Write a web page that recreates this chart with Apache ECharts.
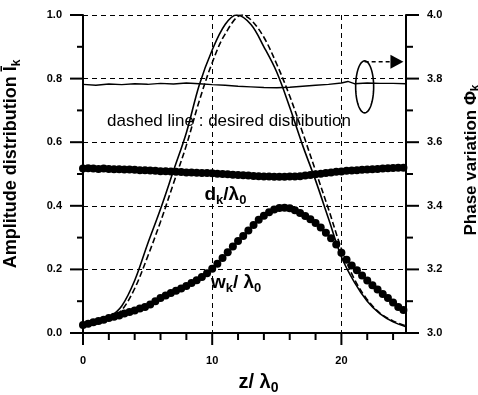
<!DOCTYPE html>
<html><head><meta charset="utf-8">
<script src="https://cdn.jsdelivr.net/npm/echarts@6/dist/echarts.min.js"></script>
<style>html,body{margin:0;padding:0;background:#fff}#c{width:478px;height:395px}</style>
</head><body><div id="c"></div>
<script>
// ---- data ----
const zK = [0,0.4,0.8,1.2,1.6,2,2.4,2.8,3.2,3.6,4,4.4,4.8,5.2,5.6,6,6.4,6.8,7.2,7.6,8,8.4,8.8,9.2,9.6,10,10.4,10.8,11.2,11.6,12,12.4,12.8,13.2,13.6,14,14.4,14.8,15.2,15.6,16,16.4,16.8,17.2,17.6,18,18.4,18.8,19.2,19.6,20,20.4,20.8,21.2,21.6,22,22.4,22.8,23.2,23.6,24,24.4,24.8,25.2];
const wK = [0.025,0.029,0.034,0.038,0.042,0.047,0.051,0.055,0.061,0.066,
            0.071,0.077,0.082,0.090,0.100,0.110,0.118,0.126,0.133,0.140,
            0.148,0.157,0.166,0.176,0.188,0.202,0.218,0.236,0.254,0.272,
            0.289,0.305,0.322,0.340,0.356,0.369,0.380,0.388,0.393,0.394,
            0.392,0.386,0.377,0.368,0.358,0.346,0.332,0.315,0.298,0.278,
            0.252,0.230,0.212,0.197,0.181,0.165,0.150,0.137,0.123,0.110,
            0.096,0.082,0.072,0.064];
const dK = [0.517,0.518,0.517,0.516,0.517,0.516,0.515,0.515,0.514,0.514,
            0.513,0.512,0.512,0.511,0.510,0.509,0.509,0.508,0.507,0.506,
            0.505,0.505,0.504,0.503,0.503,0.502,0.501,0.500,0.499,0.498,
            0.497,0.496,0.495,0.494,0.493,0.492,0.492,0.491,0.491,0.491,
            0.492,0.492,0.493,0.495,0.497,0.499,0.501,0.503,0.505,0.507,
            0.508,0.510,0.511,0.512,0.513,0.514,0.515,0.516,0.517,0.518,
            0.519,0.520,0.520,0.498];
const solidZ = [0,1,2,3,4,5,6,7,8,9,10,11,11.9,13,14,15,16,17,18,19,20,21,22,23,24,25];
const solidI = [0.02,0.03,0.048,0.085,0.165,0.28,0.39,0.51,0.63,0.78,0.89,0.97,1.0,0.97,0.90,0.82,0.71,0.59,0.48,0.36,0.24,0.16,0.10,0.06,0.035,0.02];
const dashZ = [0,1,2,3,4,5,6,7,8,9,10,11,12.3,13,14,15,16,17,18,19,20,21,22,23,24,25];
const dashI = [0.02,0.028,0.042,0.072,0.14,0.24,0.35,0.47,0.59,0.73,0.85,0.94,1.0,0.985,0.93,0.845,0.745,0.63,0.51,0.39,0.265,0.17,0.105,0.062,0.038,0.022];
const phaseZ = [0,1,2,3,4,5,6,7,8,9,10,11,12,13,14,15,16,17,18,19,20,20.5,21,22,23,24,25];
const phase = [3.782,3.779,3.783,3.781,3.784,3.782,3.785,3.783,3.786,3.784,3.781,3.779,3.776,3.774,3.772,3.771,3.773,3.776,3.779,3.782,3.786,3.791,3.784,3.786,3.785,3.785,3.784];
// ticks
const xTickLabels = [0, 10, 20];
const xMinorTicks = [2, 4, 6, 8, 12, 14, 16, 18, 22, 24];
const leftMajor = [0, 0.2, 0.4, 0.6, 0.8, 1.0];
const leftMinor = [0.1, 0.3, 0.5, 0.7, 0.9];
const rightMajor = [3.0, 3.2, 3.4, 3.6, 3.8, 4.0];
const rightMinor = [3.1, 3.3, 3.5, 3.7, 3.9];
// annotation anchors (data coordinates)
const noteText = 'dashed line : desired distribution';
const noteAt = [1.86, 0.665];
const dLabelAt = [9.4, 0.434];
const wLabelAt = [9.9, 0.157];
const ringAt = [21.8, 0.774];

const FONT = '"Liberation Sans", Arial, sans-serif';
const pairs = (xs, ys) => xs.map((x, i) => [x, ys[i]]);
const lbl = (extra) => Object.assign({show: true, fontFamily: FONT, fontSize: 11, fontWeight: 'bold', color: '#000'}, extra);
const nameRich = (mSize, sSize) => ({
  m: {fontFamily: FONT, fontSize: mSize, fontWeight: 'bold', color: '#000', lineHeight: mSize + 5},
  s: {fontFamily: FONT, fontSize: sSize, fontWeight: 'bold', color: '#000', verticalAlign: 'bottom', lineHeight: sSize}
});
const dashGrid = () => ({show: true, lineStyle: {color: '#000', type: [5, 4], width: 1}});

const chart = echarts.init(document.getElementById('c'), null, {renderer: 'canvas'});
const option = {
  animation: false,
  backgroundColor: '#fff',
  textStyle: {fontFamily: FONT},
  grid: {left: 83, right: 72, top: 15, bottom: 62, containLabel: false, outerBoundsMode: 'none'},
  xAxis: [{
    type: 'value', position: 'bottom', min: 0, max: 25, interval: 10,
    axisLine: {show: true, onZero: false, lineStyle: {color: '#000', width: 2}},
    axisTick: {show: false},
    axisLabel: lbl({margin: 22, formatter: v => xTickLabels.includes(v) ? String(v) : ''}),
    splitLine: dashGrid(),
    name: '{m|z/ λ}{s|0}', nameLocation: 'middle', nameGap: 37,
    nameTextStyle: {padding: [0, 0, 0, 28], rich: nameRich(20, 14)}
  }],
  yAxis: [{
    type: 'value', position: 'left', min: 0, max: 1, interval: 0.2,
    axisLine: {show: true, onZero: false, lineStyle: {color: '#000', width: 2}},
    axisTick: {show: false},
    axisLabel: lbl({margin: 21, formatter: v => v.toFixed(1)}),
    splitLine: dashGrid(),
    name: '{m|Amplitude distribution Ī}{s|k}', nameLocation: 'middle', nameRotate: 90, nameGap: 60,
    nameTextStyle: {padding: [0, 0, 0, 20], rich: nameRich(18, 12)}
  }, {
    type: 'value', position: 'right', min: 3, max: 4, interval: 0.2,
    axisLine: {show: true, onZero: false, lineStyle: {color: '#000', width: 2}},
    axisTick: {show: false},
    axisLabel: lbl({margin: 21, formatter: v => v.toFixed(1)}),
    splitLine: {show: false},
    name: '{m|Phase variation Φ}{s|k}', nameLocation: 'middle', nameRotate: 90, nameGap: 54,
    nameTextStyle: {padding: [0, 0, 0, 28], rich: nameRich(17, 12)}
  }],
  series: [
    {name: 'simulated', type: 'line', xAxisIndex: 0, yAxisIndex: 0, data: pairs(solidZ, solidI),
     smooth: 0.35, showSymbol: false, lineStyle: {color: '#000', width: 1.6}, z: 3},
    {name: 'desired', type: 'line', xAxisIndex: 0, yAxisIndex: 0, data: pairs(dashZ, dashI),
     smooth: 0.35, showSymbol: false, lineStyle: {color: '#000', width: 1.6, type: [6, 3]}, z: 3},
    {name: 'w_k/λ0', type: 'scatter', xAxisIndex: 0, yAxisIndex: 0, data: pairs(zK, wK),
     symbolSize: 8, itemStyle: {color: '#000', opacity: 1}, z: 4},
    {name: 'd_k/λ0', type: 'scatter', xAxisIndex: 0, yAxisIndex: 0, data: pairs(zK, dK),
     symbolSize: 8, itemStyle: {color: '#000', opacity: 1}, z: 4},
    {name: 'phase', type: 'line', xAxisIndex: 0, yAxisIndex: 1, data: pairs(phaseZ, phase),
     showSymbol: false, lineStyle: {color: '#000', width: 1.4}, z: 3}
  ]
};
chart.setOption(option);

const P = (z, v) => chart.convertToPixel({xAxisIndex: 0, yAxisIndex: 0}, [z, v]);
const PR = (z, v) => chart.convertToPixel({xAxisIndex: 0, yAxisIndex: 1}, [z, v]);
const tickLine = (x1, y1, x2, y2) => ({type: 'line', shape: {x1, y1, x2, y2}, silent: true,
  style: {stroke: '#000', lineWidth: 2}, z: 12});
const ticks = [];
xTickLabels.forEach(v => { const p = P(v, 0); ticks.push(tickLine(p[0], p[1], p[0], p[1] + 12)); });
xMinorTicks.forEach(v => { const p = P(v, 0); ticks.push(tickLine(p[0], p[1], p[0], p[1] + 7)); });
leftMajor.forEach(v => { const p = P(0, v); ticks.push(tickLine(p[0] - 13, p[1], p[0], p[1])); });
leftMinor.forEach(v => { const p = P(0, v); ticks.push(tickLine(p[0] - 6, p[1], p[0], p[1])); });
rightMajor.forEach(v => { const p = PR(25, v); ticks.push(tickLine(p[0], p[1], p[0] + 13, p[1])); });
rightMinor.forEach(v => { const p = PR(25, v); ticks.push(tickLine(p[0], p[1], p[0] + 7, p[1])); });

const c = P(ringAt[0], ringAt[1]);
const rx = 9, ry = 26;
const ring = [];
for (let t = 0; t < 64; t++) {
  const a = t / 64 * Math.PI * 2;
  ring.push([c[0] + rx * Math.cos(a), c[1] + ry * Math.sin(a)]);
}
const arrowY = c[1] - 25;
const tipX = P(24.8, 0)[0];
const headX = tipX - 13;
const n = P(noteAt[0], noteAt[1]);
const dl = P(dLabelAt[0], dLabelAt[1]);
const wl = P(wLabelAt[0], wLabelAt[1]);
const sub = {fontFamily: FONT, fontSize: 13, fontWeight: 'bold', fill: '#000', verticalAlign: 'bottom', lineHeight: 14};
const main = {fontFamily: FONT, fontSize: 19, fontWeight: 'bold', fill: '#000', lineHeight: 24};
chart.setOption({
  graphic: ticks.concat([
    {type: 'polygon', shape: {points: ring}, style: {fill: 'none', stroke: '#000', lineWidth: 1.6}, z: 10},
    {type: 'line', shape: {x1: c[0], y1: arrowY, x2: headX, y2: arrowY},
     style: {stroke: '#000', lineWidth: 1.5, lineDash: [4, 3]}, z: 10},
    {type: 'polygon', shape: {points: [[headX, arrowY - 7], [tipX, arrowY], [headX, arrowY + 7]]},
     style: {fill: '#000'}, z: 10},
    {type: 'text', x: n[0], y: n[1], z: 10,
     style: {text: noteText, fontFamily: FONT, fontSize: 17, fill: '#000', align: 'left', verticalAlign: 'middle'}},
    {type: 'text', x: dl[0], y: dl[1], z: 10,
     style: {text: '{m|d}{s|k}{m|/λ}{s|0}', align: 'left', verticalAlign: 'middle', rich: {m: main, s: sub}}},
    {type: 'text', x: wl[0], y: wl[1], z: 10,
     style: {text: '{m|w}{s|k}{m|/ λ}{s|0}', align: 'left', verticalAlign: 'middle', rich: {m: main, s: sub}}}
  ])
});
</script>
</body></html>
